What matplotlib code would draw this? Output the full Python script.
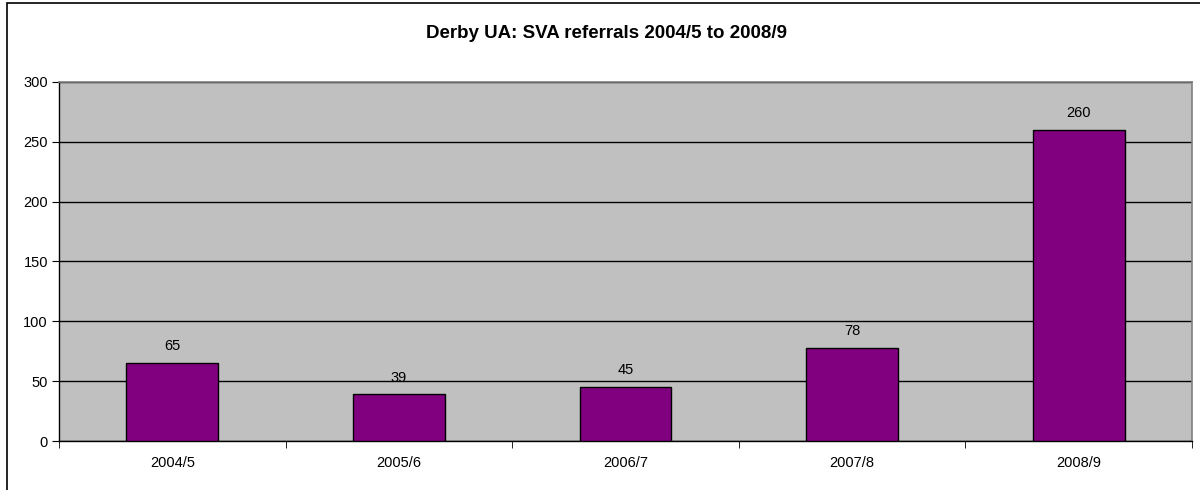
import matplotlib.pyplot as plt
from matplotlib.patches import Rectangle

years = ["2004/5", "2005/6", "2006/7", "2007/8", "2008/9"]
referrals = [65, 39, 45, 78, 260]
y_ticks = [0, 50, 100, 150, 200, 250, 300]

plt.rcParams["font.family"] = ["Liberation Sans", "DejaVu Sans"]

fig = plt.figure(figsize=(12, 4.9), dpi=100)
fig.patch.set_facecolor("white")

# outer chart frame
fig.patches.append(Rectangle((7 / 1200, -0.1), 1.2, 1 - 3 / 490 + 0.1,
                             transform=fig.transFigure, fill=False,
                             edgecolor="black", linewidth=1.2))

ax = fig.add_axes([59 / 1200, 49 / 490, 1133 / 1200, 359 / 490])
ax.set_facecolor("#C0C0C0")

x = range(len(years))
bars = ax.bar(x, referrals, width=0.405, color="#800080",
              edgecolor="black", linewidth=1, zorder=3)

for xi, v in zip(x, referrals):
    ax.annotate(str(v), (xi, v), xytext=(0, 7), textcoords="offset points",
                ha="center", va="bottom", fontsize=10.5, zorder=4)

ax.set_xlim(-0.5, len(years) - 0.5)
ax.set_ylim(0, 300)
ax.set_yticks(y_ticks)
ax.set_yticklabels([str(t) for t in y_ticks], fontsize=10.5)
ax.set_xticks(list(x))
ax.set_xticklabels(years, fontsize=10.5)
ax.set_xticks([i + 0.5 for i in range(-1, len(years))], minor=True)

ax.yaxis.grid(True, color="black", linewidth=1, zorder=1)
ax.set_axisbelow(True)

ax.tick_params(axis="x", which="major", length=0, pad=11)
ax.tick_params(axis="x", which="minor", length=5, direction="out",
               color="black")
ax.tick_params(axis="y", length=5, direction="out", color="black", pad=3)

for side in ["top", "right"]:
    ax.spines[side].set_color("#808080")
    ax.spines[side].set_linewidth(1.2)
for side in ["left", "bottom"]:
    ax.spines[side].set_color("black")
    ax.spines[side].set_linewidth(1)

fig.text(607 / 1200, 1 - 33 / 490, "Derby UA: SVA referrals 2004/5 to 2008/9",
         ha="center", va="center", fontsize=13.5, fontweight="bold")

fig.savefig("out.png", dpi=100)
